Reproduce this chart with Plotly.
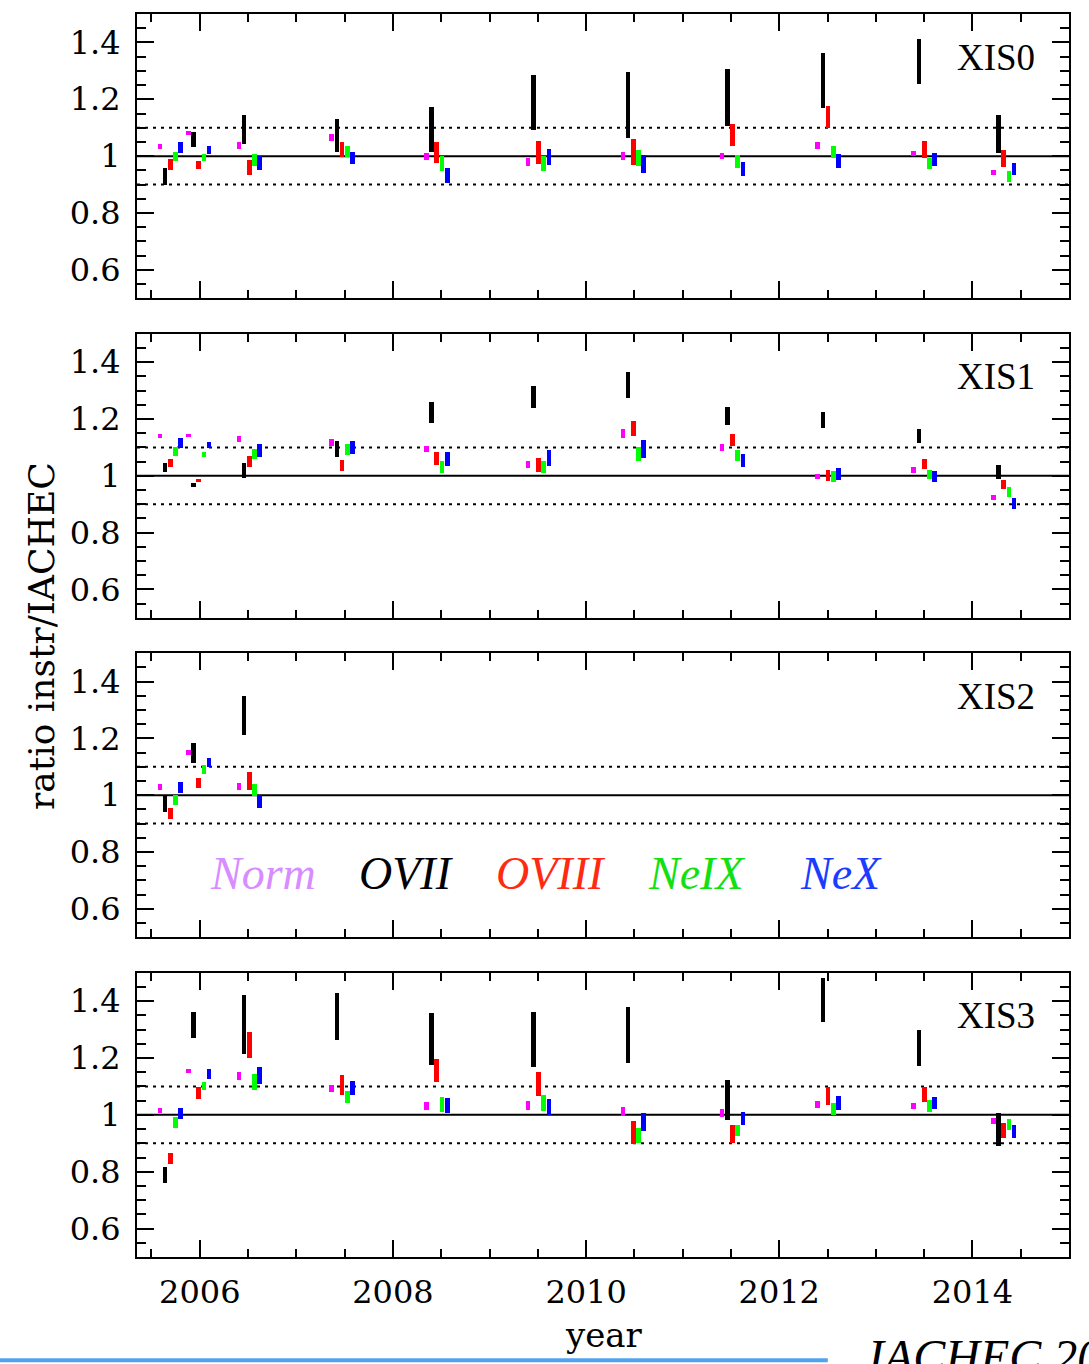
import plotly.graph_objects as go

# ---------------- data ----------------
EPOCHS = [2005.695, 2005.988, 2006.513, 2007.474, 2008.454, 2009.508,
          2010.489, 2011.516, 2012.506, 2013.501, 2014.323]
LINES = ["Norm", "OVII", "OVIII", "NeIX", "NeX"]
PANELS = ["XIS0", "XIS1", "XIS2", "XIS3"]
X_TICKS = [2006, 2008, 2010, 2012, 2014]

# (low, high) of each ratio interval, one entry per epoch
XIS0_NORM = [(1.024, 1.042), (1.075, 1.089), (1.025, 1.048), (1.055, 1.078), (0.985, 1.011), (0.967, 0.995),
             (0.988, 1.016), (0.989, 1.012), (1.025, 1.048), (0.999, 1.018), (0.932, 0.952)]
XIS0_OVII = [(0.898, 0.960), (1.031, 1.084), (1.041, 1.145), (1.013, 1.132), (1.013, 1.173), (1.091, 1.284),
             (1.065, 1.296), (1.106, 1.305), (1.169, 1.364), (1.254, 1.412), (1.012, 1.146)]
XIS0_OVIII = [(0.951, 0.989), (0.956, 0.984), (0.935, 0.988), (0.996, 1.051), (0.975, 1.048), (0.974, 1.055),
              (0.969, 1.061), (1.034, 1.113), (1.100, 1.178), (0.993, 1.055), (0.962, 1.022)]
XIS0_NEIX = [(0.982, 1.014), (0.982, 1.007), (0.966, 1.006), (0.996, 1.035), (0.949, 0.999), (0.946, 0.999),
             (0.965, 1.020), (0.960, 1.004), (0.992, 1.036), (0.954, 0.993), (0.908, 0.948)]
XIS0_NEX = [(1.011, 1.049), (1.009, 1.036), (0.952, 0.999), (0.971, 1.014), (0.906, 0.959), (0.968, 1.026),
            (0.942, 1.004), (0.931, 0.979), (0.958, 1.006), (0.967, 1.011), (0.932, 0.976)]

XIS1_NORM = [(1.133, 1.148), (1.140, 1.147), (1.119, 1.142), (1.107, 1.129), (1.084, 1.106), (1.027, 1.054),
             (1.135, 1.166), (1.089, 1.113), (0.988, 1.006), (1.012, 1.031), (0.914, 0.934)]
XIS1_OVII = [(1.014, 1.044), (0.961, 0.975), (0.994, 1.047), (1.068, 1.122), (1.188, 1.261), (1.239, 1.318),
             (1.276, 1.365), (1.178, 1.242), (1.168, 1.227), (1.116, 1.165), (0.991, 1.038)]
XIS1_OVIII = [(1.033, 1.059), (0.978, 0.991), (1.031, 1.072), (1.016, 1.055), (1.039, 1.086), (1.014, 1.065),
              (1.139, 1.195), (1.107, 1.149), (0.982, 1.022), (1.024, 1.058), (0.953, 0.985)]
XIS1_NEIX = [(1.072, 1.101), (1.068, 1.085), (1.059, 1.096), (1.074, 1.111), (1.009, 1.053), (1.009, 1.054),
             (1.053, 1.102), (1.051, 1.092), (0.980, 1.019), (0.991, 1.022), (0.926, 0.961)]
XIS1_NEX = [(1.099, 1.135), (1.100, 1.119), (1.067, 1.112), (1.079, 1.122), (1.034, 1.086), (1.035, 1.092),
            (1.064, 1.125), (1.032, 1.078), (0.984, 1.029), (0.979, 1.019), (0.885, 0.924)]

XIS2_NORM = [(1.018, 1.038), (1.141, 1.158), (1.018, 1.042)]
XIS2_OVII = [(0.939, 1.001), (1.114, 1.184), (1.212, 1.348)]
XIS2_OVIII = [(0.916, 0.954), (1.024, 1.059), (1.019, 1.082)]
XIS2_NEIX = [(0.966, 0.999), (1.074, 1.104), (0.998, 1.040)]
XIS2_NEX = [(1.008, 1.047), (1.099, 1.131), (0.954, 1.001)]

XIS3_NORM = [(1.008, 1.026), (1.148, 1.164), (1.125, 1.153), (1.080, 1.107), (1.019, 1.047), (1.019, 1.048),
             (0.996, 1.027), (0.995, 1.020), (1.025, 1.049), (1.020, 1.041), (0.968, 0.991)]
XIS3_OVII = [(0.761, 0.818), (1.272, 1.364), (1.216, 1.421), (1.266, 1.428), (1.175, 1.360), (1.171, 1.362),
             (1.184, 1.381), (0.982, 1.125), (1.329, 1.484), (1.174, 1.300), (0.891, 1.007)]
XIS3_OVIII = [(0.827, 0.866), (1.056, 1.098), (1.201, 1.291), (1.072, 1.142), (1.118, 1.199), (1.068, 1.151),
              (0.899, 0.978), (0.902, 0.965), (1.036, 1.100), (1.045, 1.100), (0.921, 0.973)]
XIS3_NEIX = [(0.956, 0.992), (1.087, 1.116), (1.089, 1.144), (1.041, 1.086), (1.011, 1.065), (1.016, 1.072),
             (0.901, 0.954), (0.926, 0.967), (1.001, 1.041), (1.012, 1.053), (0.947, 0.987)]
XIS3_NEX = [(0.985, 1.024), (1.128, 1.161), (1.111, 1.171), (1.071, 1.121), (1.006, 1.062), (1.001, 1.056),
            (0.945, 1.007), (0.964, 1.012), (1.019, 1.068), (1.020, 1.065), (0.919, 0.965)]

DATA = {
    "XIS0": [XIS0_NORM, XIS0_OVII, XIS0_OVIII, XIS0_NEIX, XIS0_NEX],
    "XIS1": [XIS1_NORM, XIS1_OVII, XIS1_OVIII, XIS1_NEIX, XIS1_NEX],
    "XIS2": [XIS2_NORM, XIS2_OVII, XIS2_OVIII, XIS2_NEIX, XIS2_NEX],
    "XIS3": [XIS3_NORM, XIS3_OVII, XIS3_OVIII, XIS3_NEIX, XIS3_NEX],
}

# ---------------- styles ----------------
BAR_COLORS = ["#ff00ff", "#000000", "#ff0000", "#00ff00", "#0000ff"]
LABEL_COLORS = ["#d78cff", "#000000", "#ff2a12", "#12e012", "#1a3cff"]
SERIES_STEP = 0.054   # x offset between the five lines of one epoch (years)
BAR_WIDTH = 0.048
SERIF = "DejaVu Serif"
ROMAN = "Liberation Serif"

DOMAINS = [[0.7713, 1.0], [0.5143, 0.7427], [0.2573, 0.4857], [0.0, 0.2287]]

fig = go.Figure()

for p, name in enumerate(PANELS):
    ax = "" if p == 0 else str(p + 1)
    for k, series in enumerate(DATA[name]):
        n = len(series)
        xs = [EPOCHS[i] + (k - 2) * SERIES_STEP for i in range(n)]
        lows = [lo for lo, hi in series]
        spans = [hi - lo for lo, hi in series]
        fig.add_trace(go.Bar(
            x=xs, y=spans, base=lows, width=BAR_WIDTH,
            marker=dict(color=BAR_COLORS[k], line=dict(width=0)),
            xaxis="x" + ax, yaxis="y" + ax, showlegend=False, hoverinfo="skip",
        ))

axis_common = dict(showline=True, linecolor="black", linewidth=2, mirror="ticks",
                   ticks="inside", tickcolor="black", tickwidth=2, showgrid=False,
                   zeroline=False, ticklen=17,
                   tickfont=dict(family=SERIF, size=32, color="black"))

layout = dict(
    width=1089, height=1364,
    margin=dict(l=137, r=20, t=12, b=107),
    paper_bgcolor="white", plot_bgcolor="white",
    barmode="overlay", bargap=0,
    showlegend=False,
)

shapes = []
annotations = []
for p, name in enumerate(PANELS):
    ax = "" if p == 0 else str(p + 1)
    layout["xaxis" + ax] = dict(
        axis_common, anchor="y" + ax, domain=[0, 1], range=[2005.35, 2015.0],
        tickmode="array", tickvals=X_TICKS, showticklabels=(p == 3),
        ticklabelstandoff=6,
        minor=dict(dtick=0.5, tick0=2006, ticks="inside", ticklen=8, tickwidth=2,
                   tickcolor="black", showgrid=False),
    )
    layout["yaxis" + ax] = dict(
        axis_common, anchor="x" + ax, domain=DOMAINS[p], range=[0.5, 1.5],
        tickmode="array", tickvals=[0.6, 0.8, 1.0, 1.2, 1.4],
        ticktext=["0.6", "0.8", "1", "1.2", "1.4"], ticklabelstandoff=8,
        minor=dict(dtick=0.05, tick0=0.5, ticks="inside", ticklen=9, tickwidth=2,
                   tickcolor="black", showgrid=False),
    )
    xd = "x" + ax + " domain"
    yr = "y" + ax
    shapes.append(dict(type="line", xref=xd, yref=yr, x0=0, x1=1, y0=1.0, y1=1.0,
                       line=dict(color="black", width=2), layer="below"))
    for lvl in (0.9, 1.1):
        shapes.append(dict(type="line", xref=xd, yref=yr, x0=0, x1=1, y0=lvl, y1=lvl,
                           line=dict(color="black", width=2, dash="3px,5px"), layer="below"))
    annotations.append(dict(text=name, xref=xd, yref="y" + ax + " domain",
                            x=0.922, y=0.848, xanchor="center", yanchor="middle",
                            showarrow=False, font=dict(family=ROMAN, size=37, color="black")))

# line labels in the XIS2 panel
LABEL_X = [0.135, 0.289, 0.444, 0.600, 0.755]
for k, lab in enumerate(LINES):
    annotations.append(dict(text="<i>" + lab + "</i>", xref="x3 domain", yref="y3 domain",
                            x=LABEL_X[k], y=0.224, xanchor="center", yanchor="middle",
                            showarrow=False, font=dict(family=ROMAN, size=46, color=LABEL_COLORS[k])))

# axis titles
annotations.append(dict(text="ratio instr/IACHEC", xref="paper", yref="paper",
                        x=-0.102, y=0.4996, xanchor="center", yanchor="middle", textangle=-90,
                        showarrow=False, font=dict(family=SERIF, size=36, color="black")))
annotations.append(dict(text="year", xref="paper", yref="paper",
                        x=0.501, y=-0.0627, xanchor="center", yanchor="middle",
                        showarrow=False, font=dict(family=SERIF, size=34, color="black")))
# footer
annotations.append(dict(text="<i>IACHEC 2015</i>", xref="paper", yref="paper",
                        x=0.781, y=-0.0575, xanchor="left", yanchor="top",
                        showarrow=False, font=dict(family=ROMAN, size=48, color="black")))
shapes.append(dict(type="line", xref="paper", yref="paper", x0=-0.1473, x1=0.7412,
                   y0=-0.083, y1=-0.083, line=dict(color="#4fa3f0", width=4)))

layout["shapes"] = shapes
layout["annotations"] = annotations
fig.update_layout(**layout)

fig.write_html("out.html", config={"displayModeBar": False},
               post_script="document.body.style.margin='0';document.body.style.padding='0';"
                           "document.body.style.overflow='hidden';")
